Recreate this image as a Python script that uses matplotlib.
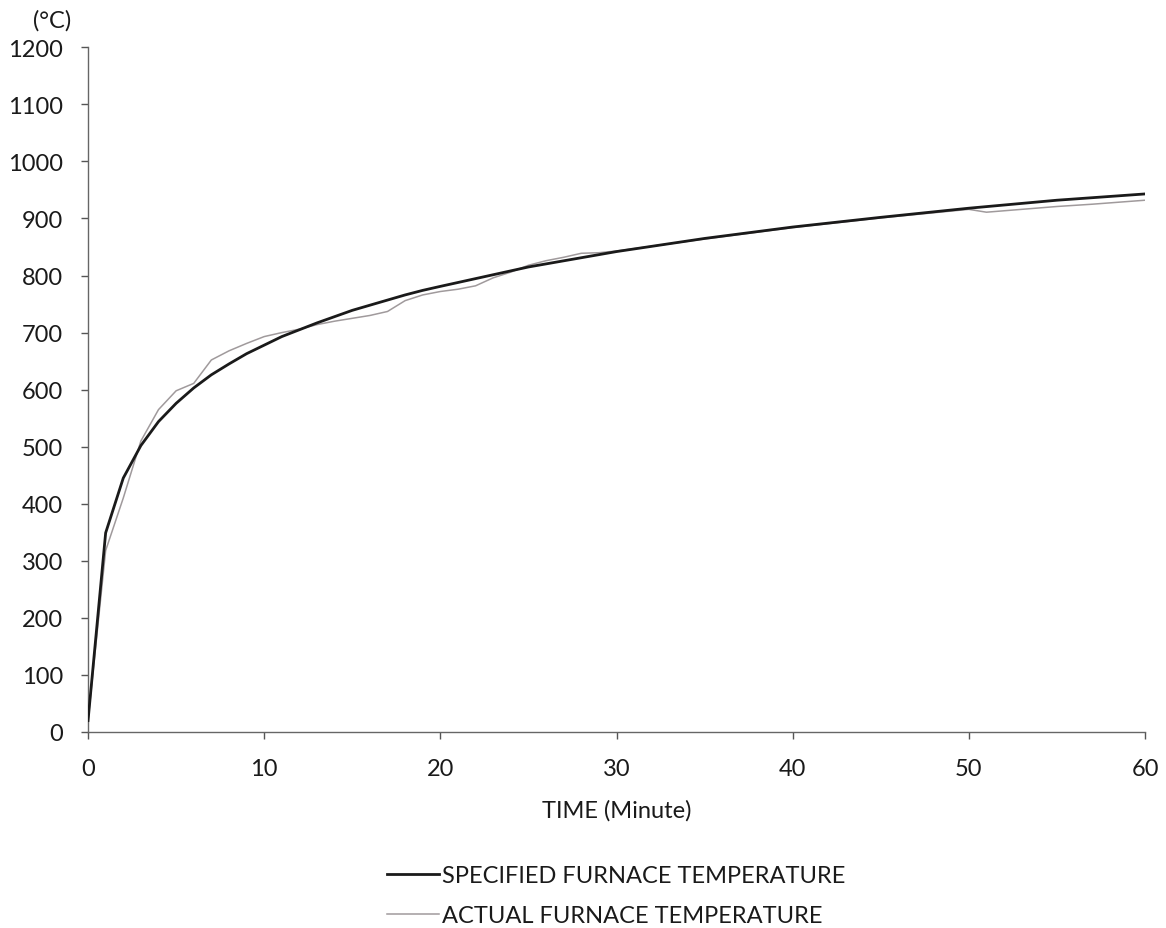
import numpy as np
import matplotlib.pyplot as plt

# specified furnace temperature
spec_time = [0, 1, 2, 3, 4, 5, 6, 7, 8, 9, 10, 11, 12, 13, 14, 15, 16, 17, 18, 19, 20,
             25, 30, 35, 40, 45, 50, 55, 60]
spec_temp = [20, 349, 445, 502, 544, 576, 603, 626, 645, 663, 678, 693, 705, 717, 728, 739,
             748, 757, 766, 774, 781, 815, 842, 865, 885, 902, 918, 932, 943]

# actual furnace temperature
act_time = [0, 1, 2, 3, 4, 5, 6, 7, 8, 9, 10, 11, 12, 13, 14, 15, 16, 17, 18, 19, 20,
            21, 22, 23, 24, 25, 26, 27, 28, 29, 30, 35, 40, 45, 50, 51, 53, 55, 57, 60]
act_temp = [20, 318, 410, 510, 565, 598, 611, 652, 668, 681, 693, 700, 706, 714, 720, 725,
            730, 737, 756, 766, 772, 776, 782, 796, 806, 818, 826, 832, 839, 840, 843,
            864, 884, 901, 916, 911, 916, 921, 925, 932]

x_ticks = [0, 10, 20, 30, 40, 50, 60]
y_ticks = list(range(0, 1201, 100))

plt.rcParams['font.family'] = ['Lato', 'DejaVu Sans']

fig = plt.figure(figsize=(11.66, 9.29), dpi=100)
ax = fig.add_axes([0.0755, 0.211, 0.9065, 0.737])

ax.plot(spec_time, spec_temp, color='#1a1a1a', lw=2.0, label='SPECIFIED FURNACE TEMPERATURE', zorder=3)
ax.plot(act_time, act_temp, color='#a09a9c', lw=1.1, label='ACTUAL FURNACE TEMPERATURE', zorder=2)

ax.set_xlim(0, 60)
ax.set_ylim(0, 1200)
ax.set_xticks(x_ticks)
ax.set_yticks(y_ticks)
ax.tick_params(axis='both', labelsize=17, colors='#555555', labelcolor='#1a1a1a',
               direction='out', length=5, width=1)
ax.tick_params(axis='y', pad=13)
ax.tick_params(axis='x', pad=14)

for s in ['top', 'right']:
    ax.spines[s].set_visible(False)
for s in ['left', 'bottom']:
    ax.spines[s].set_color('#666666')
    ax.spines[s].set_linewidth(1.0)

ax.set_xlabel('TIME (Minute)', fontsize=17, color='#1a1a1a', labelpad=14)
fig.text(0.045, 0.978, '(°C)', fontsize=17, color='#1a1a1a', ha='center', va='center')

fig.legend(loc='upper left', bbox_to_anchor=(0.314, 0.0905), frameon=False,
           fontsize=17, handlelength=2.2, handletextpad=0.1, labelspacing=0.8,
           labelcolor='#1a1a1a')

fig.savefig('out.png', dpi=100)
